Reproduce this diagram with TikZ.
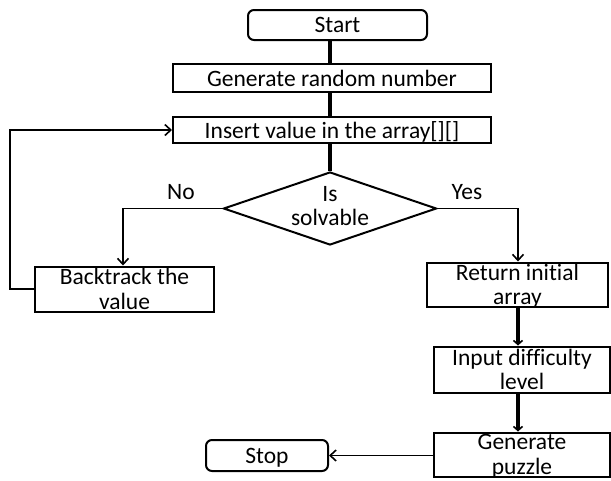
\documentclass[tikz,border=0pt]{standalone}
\usepackage{fontspec}
\setmainfont{Carlito}[Ligatures=NoCommon]
\usetikzlibrary{arrows.meta,shapes.geometric}
\begin{document}
\begin{tikzpicture}[x=1pt,y=-1pt,
  box/.style={draw,line width=2pt,align=center,font=\fontsize{23.5}{24.5}\selectfont,inner sep=0pt,text depth=0pt},
  term/.style={box,rounded corners=6pt},
  lbl/.style={font=\fontsize{23.5}{24}\selectfont},
  conn/.style={line width=1.6pt,-{Straight Barb[length=6pt,width=11pt,line width=1.6pt]}},
  heavy/.style={line width=4pt},
  heavyarr/.style={line width=4.5pt,-{Straight Barb[length=4pt,width=9pt,line width=1.6pt]}}]
\useasboundingbox (0,0) rectangle (611,480);
\node[term,minimum width=179pt,minimum height=30pt] (start) at (337.5,25) {Start};
\node[box,minimum width=318pt,minimum height=28pt] (gen) at (332,78) {Generate random number};
\node[box,minimum width=318pt,minimum height=26pt] (ins) at (332,130) {Insert value in the array[][]};
\node[draw,line width=2pt,diamond,aspect=2.9,inner sep=0pt,minimum width=213pt,minimum height=73pt] (dec) at (330,208.5) {};
\node[lbl,align=center] (dectext) at (330,206) {Is\\solvable};
\node[box,minimum width=179pt,minimum height=45pt] (back) at (124.5,289) {Backtrack the\\value};
\node[box,minimum width=181pt,minimum height=44pt] (ret) at (517.5,284.5) {Return initial\\array};
\node[box,minimum width=176pt,minimum height=46pt] (inp) at (522,369.5) {Input difficulty\\level};
\node[box,minimum width=176pt,minimum height=44pt] (gp) at (522,454.5) {Generate\\puzzle};
\node[term,minimum width=122pt,minimum height=31pt] (stop) at (267,455.5) {Stop};
\node[lbl] (no) at (181,192) {No};
\node[lbl] (yes) at (467,192) {Yes};
\coordinate (nturn) at (123,208.5);
\coordinate (yturn) at (518,208.5);
\coordinate (lb) at (10,289);
\coordinate (lt) at (10,130);
\draw[heavy] (start.south -| 330,0) -- (gen.north -| 330,0);
\draw[heavy] (gen.south -| 330,0) -- (ins.north -| 330,0);
\draw[heavy] (ins.south -| 330,0) -- (dec.north);
\draw[conn] (dec.west) -- (nturn) -- (back.north -| nturn);
\draw[conn] (dec.east) -- (yturn) -- (ret.north -| yturn);
\draw[conn] (back.west) -- (lb) -- (lt) -- (ins.west);
\draw[heavyarr] (ret.south -| 518,0) -- (inp.north -| 518,0);
\draw[heavyarr] (inp.south -| 518,0) -- (gp.north -| 518,0);
\draw[conn] (gp.west |- stop) -- (stop.east);
\end{tikzpicture}
\end{document}
